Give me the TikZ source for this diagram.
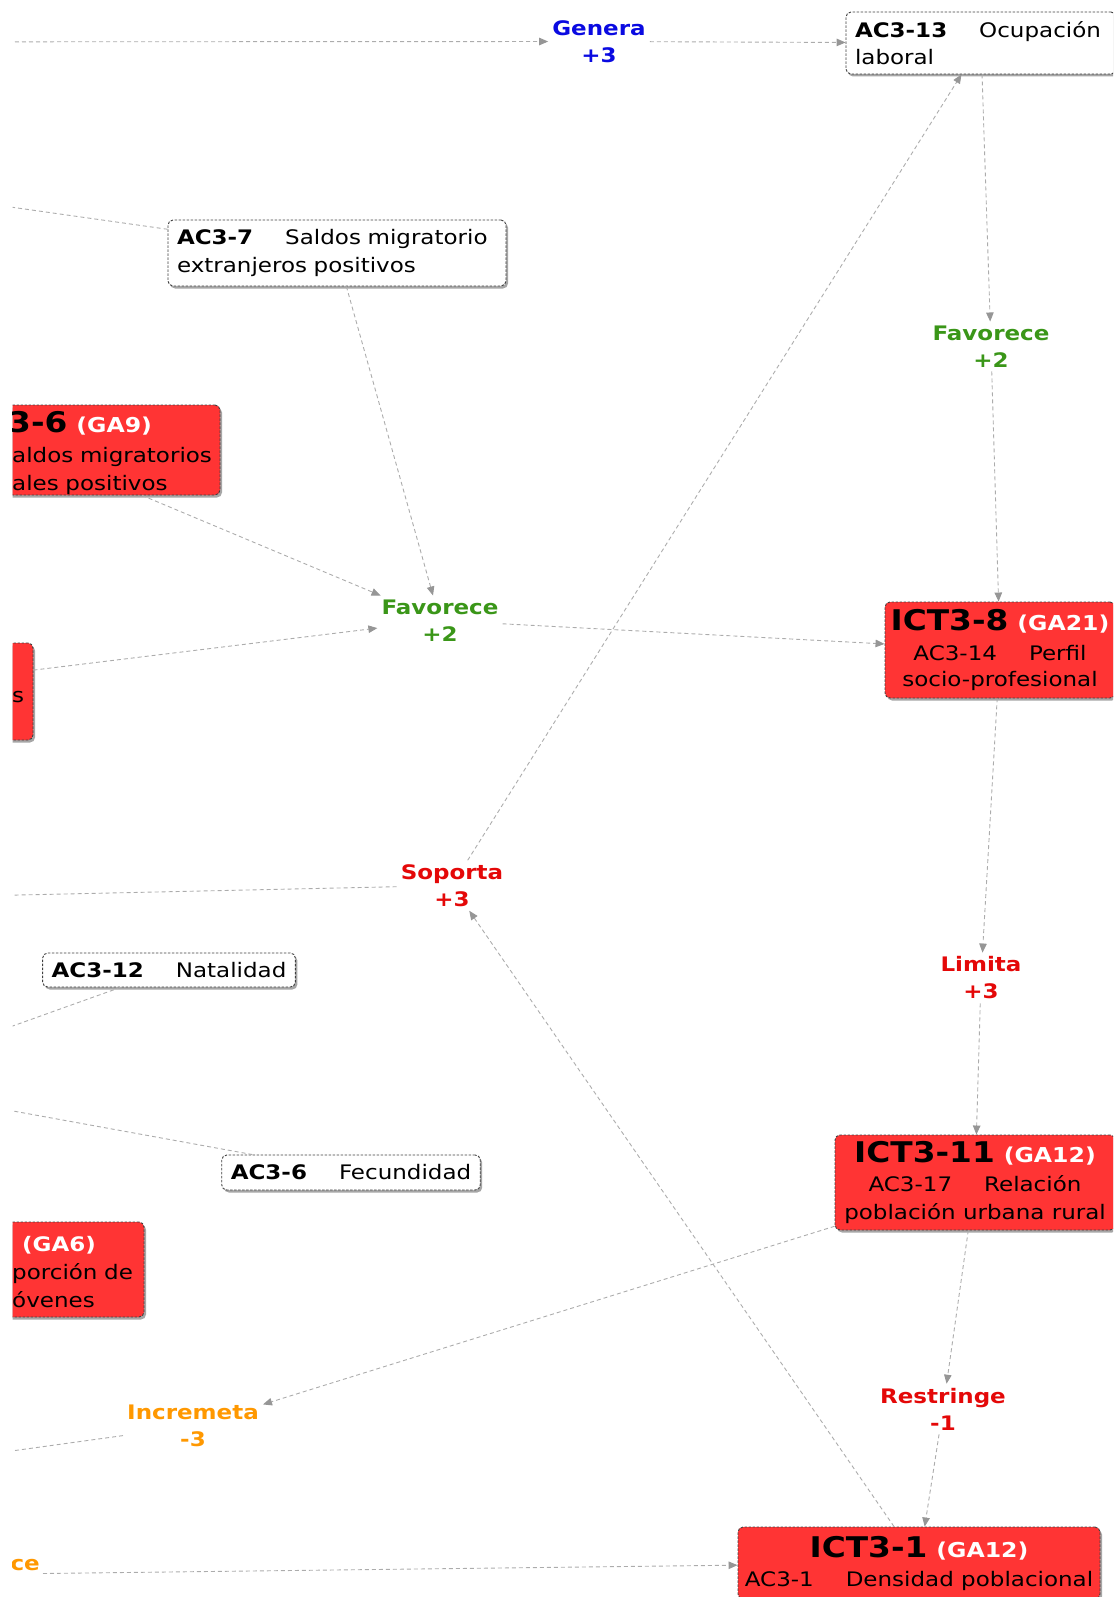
\documentclass[tikz,border=0pt]{standalone}
\usepackage{fontspec}
\setmainfont{DejaVu Sans}[FakeStretch=1.15]
\usetikzlibrary{arrows.meta, shadows}
\definecolor{boxred}{RGB}{255,52,52}
\definecolor{linkgray}{RGB}{172,172,172}
\definecolor{tipgray}{RGB}{150,150,150}
\definecolor{relblue}{RGB}{10,10,225}
\definecolor{relgreen}{RGB}{58,150,24}
\definecolor{relred}{RGB}{228,8,8}
\definecolor{relorange}{RGB}{255,152,0}
\newcommand{\acgap}{\hspace{32pt}}
\newcommand{\icttitle}[2]{{\fontsize{28.5}{30}\selectfont\bfseries #1}\hspace{9pt}{\fontsize{20.5}{28}\selectfont\bfseries\color{white}#2}}

\begin{document}
\begin{tikzpicture}[x=1pt, y=-1pt,
    acbox/.style={draw=black!75, line width=0.9pt, dash pattern=on 2.5pt off 1.5pt, rounded corners=5pt, fill=white,
      drop shadow={shadow xshift=2pt, shadow yshift=-2.5pt, fill=black, opacity=0.35},
      font=\fontsize{20}{27.5}\selectfont, inner xsep=9pt, inner ysep=0pt, align=left},
    ictbox/.style={acbox, fill=boxred, font=\fontsize{20}{28}\selectfont, align=center, inner xsep=0pt},
    cuttext/.style={anchor=base west, inner sep=0pt, text width=260pt, align=left, font=\fontsize{20}{28}\selectfont},
    rel/.style={font=\fontsize{20}{27}\selectfont\bfseries, align=center, inner sep=4pt},
    link/.style={draw=linkgray, line width=0.9pt, dash pattern=on 4pt off 3pt},
    tip/.style={-{Triangle[length=9pt, width=7.5pt, color=tipgray]}}]
    \useasboundingbox (0,0) rectangle (1113,1597);
    \begin{scope}
    \clip (12.5,0) rectangle (1113,1597);

    \node[acbox, text width=252pt, minimum height=62pt] (ac13) at (981,43) {\textbf{AC3-13}\acgap Ocupación\\laboral};
    \node[acbox, text width=320pt, minimum height=66pt] (ac7) at (337,253) {\textbf{AC3-7}\acgap Saldos migratorio\\extranjeros positivos};
    \node[acbox, minimum width=248pt, minimum height=34pt] (ac12) at (169,970) {\textbf{AC3-12}\acgap Natalidad};
    \node[acbox, minimum width=256pt, minimum height=35pt] (ac6) at (351,1172.5) {\textbf{AC3-6}\acgap Fecundidad};

    \node[ictbox, minimum width=372pt, minimum height=90pt] (ict6) at (34,450) {};
    \node[cuttext] (ict6txt) at (12,432) {\hspace*{-4pt}\icttitle{3-6}{(GA9)}\\[2pt]aldos migratorios\\ales positivos};
    \node[ictbox, minimum width=350pt, minimum height=97pt] (ictmid) at (-142,691.5) {};
    \node[cuttext] (ictmidtxt) at (12,702) {s};
    \node[ictbox, minimum width=320pt, minimum height=95pt] (ga6) at (-16,1269.5) {};
    \node[cuttext] (ga6txt) at (12,1251) {\hspace*{10pt}{\bfseries\color{white}(GA6)}\\porción de\\óvenes};

    \node[ictbox, minimum width=230pt, minimum height=96pt, font=\fontsize{20}{26}\selectfont] (ict8) at (1000,650) {\icttitle{ICT3-8}{(GA21)}\\[4pt]AC3-14\acgap Perfil\\socio-profesional};
    \node[ictbox, minimum width=280pt, minimum height=95pt] (ict11) at (975,1182.5) {\icttitle{ICT3-11}{(GA12)}\\[1pt]AC3-17\acgap Relación\\población urbana rural};
    \node[ictbox, minimum width=362pt, minimum height=72pt] (ict1) at (919,1563) {\icttitle{ICT3-1}{(GA12)}\\[1pt]AC3-1\acgap Densidad poblacional};

    \node[rel, text=relblue] (genera) at (599,41.5) {Genera\\+3};
    \node[rel, text=relgreen] (favtop) at (991,346.5) {Favorece\\+2};
    \node[rel, text=relgreen] (favmid) at (440,620.5) {Favorece\\+2};
    \node[rel, text=relred] (soporta) at (452,885.5) {Soporta\\+3};
    \node[rel, text=relred] (limita) at (981,978) {Limita\\+3};
    \node[rel, text=relred] (restringe) at (943,1409) {Restringe\\-1};
    \node[rel, text=relorange] (incremeta) at (193,1426) {Incremeta\\-3};
    \node[rel, text=relorange, anchor=base east, inner sep=3pt] (ce) at (43,1570) {ce};

    \coordinate (topw) at (-300,42);
    \coordinate (ac7w) at (-300,163);
    \coordinate (soportaw) at (-300,902);
    \coordinate (ac12w) at (-300,1138);
    \coordinate (ac6w) at (-300,1054);
    \coordinate (incw) at (-300,1494);

    \draw[link, tip] (topw) -- (genera);
    \draw[link, tip] (genera) -- (ac13);
    \draw[link] (ac7) -- (ac7w);
    \draw[link, tip] (ac7) -- (favmid);
    \draw[link, tip] (ict6) -- (favmid);
    \draw[link, tip] (ictmid) -- (favmid);
    \draw[link, tip] (favmid) -- (ict8);
    \draw[link, tip] (ac13) -- (favtop);
    \draw[link, tip] (favtop) -- (ict8);
    \draw[link, tip] (ict8) -- (limita);
    \draw[link, tip] (limita) -- (ict11);
    \draw[link] (soporta) -- (soportaw);
    \draw[link, tip] (soporta) -- (ac13);
    \draw[link, tip] (ict1) -- (soporta);
    \draw[link] (ac12) -- (ac12w);
    \draw[link] (ac6) -- (ac6w);
    \draw[link, tip] (ict11) -- (incremeta);
    \draw[link] (incremeta) -- (incw);
    \draw[link, tip] (ict11) -- (restringe);
    \draw[link, tip] (restringe) -- (ict1);
    \draw[link, tip] (ce.south east) -- (ict1);
    \end{scope}
\end{tikzpicture}
\end{document}
